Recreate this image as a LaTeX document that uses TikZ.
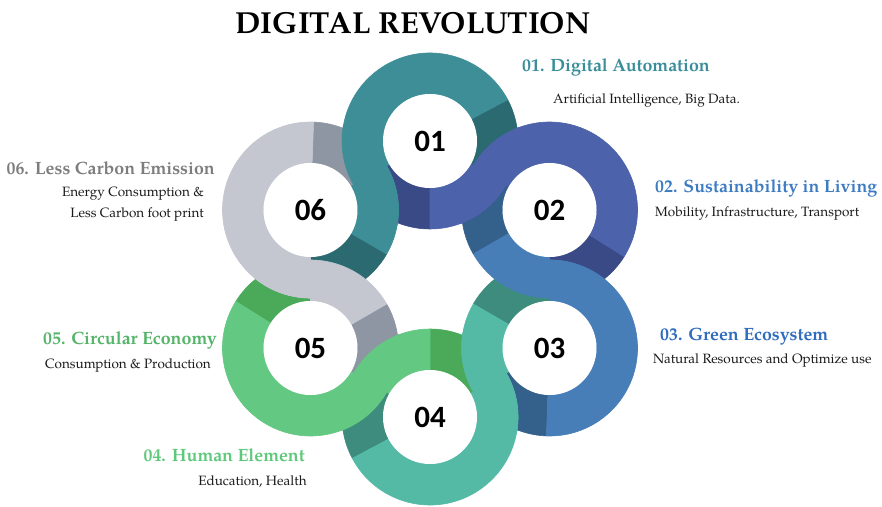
\documentclass[tikz,border=0pt]{standalone}
\usepackage{fontspec}
\setmainfont{texgyrepagella}[Extension=.otf, UprightFont=*-regular, BoldFont=*-bold, ItalicFont=*-italic, BoldItalicFont=*-bolditalic]
\newfontfamily\numfont{Carlito}
\usetikzlibrary{calc}

% ribbon colours: light body and darker shaded end
\definecolor{ribL1}{RGB}{62,142,152}  \definecolor{ribD1}{RGB}{44,106,114}
\definecolor{ribL2}{RGB}{76,98,170}   \definecolor{ribD2}{RGB}{58,74,135}
\definecolor{ribL3}{RGB}{72,126,184}  \definecolor{ribD3}{RGB}{52,96,140}
\definecolor{ribL4}{RGB}{84,186,166}  \definecolor{ribD4}{RGB}{62,140,125}
\definecolor{ribL5}{RGB}{98,200,130}  \definecolor{ribD5}{RGB}{74,170,90}
\definecolor{ribL6}{RGB}{196,199,208} \definecolor{ribD6}{RGB}{142,149,163}
% heading colours
\definecolor{head1}{RGB}{58,142,154}
\definecolor{head2}{RGB}{62,124,194}
\definecolor{head3}{RGB}{48,108,190}
\definecolor{head4}{RGB}{96,200,124}
\definecolor{head5}{RGB}{84,180,104}
\definecolor{head6}{RGB}{125,125,125}
\definecolor{bodytext}{RGB}{26,26,26}

% annular sector of a ring: centre, start angle, end angle, colour
\newcommand\annsector[4]{%
  \filldraw[#4, line width=0.6pt, line join=round]
    ($(#1)+(#2:88)$) arc[start angle=#2, end angle=#3, radius=88]
    -- ($(#1)+(#3:47)$) arc[start angle=#3, end angle=#2, radius=47] -- cycle;}

\begin{document}
\begin{tikzpicture}[x=1pt,y=1pt,
  numdisc/.style={circle, fill=white, minimum size=94pt, inner sep=0pt,
    font=\numfont\bfseries\fontsize{31}{31}\selectfont},
  headline/.style={inner sep=0pt, font=\bfseries\fontsize{17.8}{19}\selectfont},
  bodyline/.style={inner sep=0pt, text=bodytext, font=\fontsize{13.5}{15}\selectfont}]
\useasboundingbox (0,0) rectangle (882,506);
\fill[white] (0,0) rectangle (882,506);

% ring centres on a hexagon of radius 138
\coordinate (hub) at (430,227);
\foreach \k in {1,...,6}{
  \pgfmathsetmacro\th{150-60*\k}
  \coordinate (c\k) at ($(hub)+(\th:138)$);
}

% each ring: end of its own ribbon, its own ribbon, start of the next ribbon
\foreach \k/\n in {1/2,2/3,3/4,4/5,5/6,6/1}{
  \pgfmathsetmacro\d{90-60*\k}
  \pgfmathsetmacro\aa{\d-60}
  \pgfmathsetmacro\ab{\d-2}
  \pgfmathsetmacro\ac{\d+180}
  \pgfmathsetmacro\ad{\d+240}
  \pgfmathsetmacro\ae{\d+300}
  \annsector{c\k}{\aa}{\ab}{ribD\k}
  \annsector{c\k}{\ab}{\ac}{ribL\k}
  \annsector{c\k}{\ac}{\ad}{ribD\n}
  \annsector{c\k}{\ad}{\ae}{ribL\n}
}

% S-shaped crossings where a ribbon passes from one ring to the next
\foreach \k/\p in {1/6,2/1,3/2,4/3,5/4,6/5}{
  \pgfmathsetmacro\d{90-60*\k}
  \pgfmathsetmacro\aa{\d-40}
  \pgfmathsetmacro\ab{\d+140}
  \pgfmathsetmacro\ac{\d+180}
  \annsector{c\p}{\aa}{\d}{ribL\k}
  \annsector{c\k}{\ab}{\ac}{ribL\k}
}

% numbered discs
\foreach \k in {1,...,6}{
  \node[numdisc] (n\k) at (c\k) {0\k};
}

% title
\node[inner sep=0pt, anchor=base, font=\bfseries\fontsize{30.4}{32}\selectfont] (title) at (413,472) {DIGITAL REVOLUTION};

% right-hand labels
\node[headline, text=head1, anchor=base west] (h1) at (522,434) {01. Digital Automation};
\node[bodyline, anchor=base west] (s1) at (553,402) {Artificial Intelligence, Big Data.};
\node[headline, text=head2, anchor=base west] (h2) at (655,313) {02. Sustainability in Living};
\node[bodyline, anchor=base west] (s2) at (655,289) {Mobility, Infrastructure, Transport};
\node[headline, text=head3, anchor=base west] (h3) at (660,165) {03. Green Ecosystem};
\node[bodyline, anchor=base west] (s3) at (653,143) {Natural Resources and Optimize use};

% left-hand labels
\node[headline, text=head4, anchor=base east] (h4) at (305,45) {04. Human Element};
\node[bodyline, anchor=base east] (s4) at (307,21) {Education, Health};
\node[headline, text=head5, anchor=base east] (h5) at (217,161) {05. Circular Economy};
\node[bodyline, anchor=base east] (s5) at (211,138) {Consumption \& Production};
\node[headline, text=head6, anchor=base east] (h6) at (215,331) {06. Less Carbon Emission};
\node[bodyline, anchor=base east] (s6a) at (204,309) {Energy Consumption \&};
\node[bodyline, anchor=base east] (s6b) at (204,288) {Less Carbon foot print};
\end{tikzpicture}
\end{document}
